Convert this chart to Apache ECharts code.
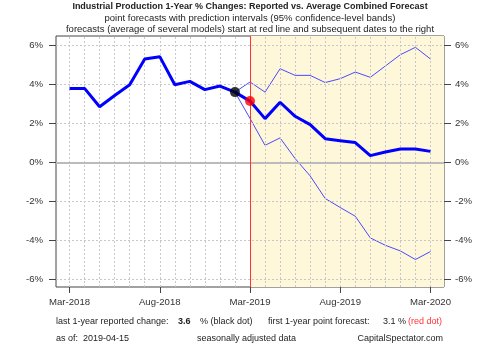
<!DOCTYPE html>
<html><head><meta charset="utf-8">
<script src="https://cdn.jsdelivr.net/npm/echarts@6/dist/echarts.min.js"></script>
<style>html,body{margin:0;padding:0;background:#fff}#c{width:500px;height:346px}</style>
</head><body><div id="c"></div>
<script>
// ---- data ----
var tickIndex = [0, 6, 12, 18, 24];
var tickLabels = ['Mar-2018', 'Aug-2018', 'Mar-2019', 'Aug-2019', 'Mar-2020'];
var yTicks = [-6, -4, -2, 0, 2, 4, 6];
var mainValues = [3.79, 3.79, 2.85, 3.43, 3.98, 5.30, 5.42, 3.98, 4.15, 3.73, 3.91, 3.60, 3.14,
                  2.24, 3.08, 2.36, 1.93, 1.21, 1.11, 1.01, 0.34, 0.53, 0.68, 0.68, 0.56];
var bandStart = 11;
var upperValues = [3.60, 4.12, 3.60, 4.80, 4.46, 4.46, 4.09, 4.29, 4.63, 4.36, 4.94, 5.52, 5.90, 5.30];
var lowerValues = [3.60, 2.25, 0.87, 1.25, 0.19, -0.70, -1.86, -2.32, -2.77, -3.88, -4.26, -4.55, -4.99, -4.58];
var lastReportedIdx = 11, lastReported = 3.6;
var firstForecastIdx = 12, firstForecast = 3.1;

// ---- build ----
var FONT = 'Liberation Sans, Arial, sans-serif';
function pts(arr, start) { return arr.map(function (v, i) { return [start + i, v]; }); }
var vGrid = [];
for (var i = 0; i < mainValues.length; i++) if (i !== firstForecastIdx) vGrid.push({ xAxis: i });
var hGrid = yTicks.filter(function (v) { return v !== 0; }).map(function (v) { return { yAxis: v }; });

var chart = echarts.init(document.getElementById('c'), null, { renderer: 'canvas' });
var yAx = function (pos, margin) {
  return {
    type: 'value', position: pos, min: -6.4, max: 6.48,
    axisLine: { show: false, onZero: false },
    axisTick: { show: true, length: 7, customValues: yTicks, lineStyle: { color: '#444' } },
    axisLabel: { customValues: yTicks, margin: margin, color: '#333', fontSize: 9.6, fontFamily: FONT,
      formatter: function (v) { return v + '%'; } },
    splitLine: { show: false }
  };
};
function txt(x, y, s, font, fill, align) {
  return { type: 'text', x: x, y: y, style: { text: s, font: font + ' ' + FONT, fill: fill || '#222', align: align || 'left', verticalAlign: 'middle' } };
}
chart.setOption({
  animation: false,
  grid: { left: 56, right: 56, top: 36, bottom: 59, show: true, borderColor: '#444', borderWidth: 1, backgroundColor: 'transparent' },
  xAxis: {
    type: 'value', min: -0.9, max: 24.9,
    axisLine: { show: false, onZero: false },
    axisTick: { show: true, length: 6, customValues: tickIndex, lineStyle: { color: '#444' } },
    axisLabel: { customValues: tickIndex, margin: 10, color: '#333', fontSize: 9.6, fontFamily: FONT,
      formatter: function (v) { var k = tickIndex.indexOf(Math.round(v)); return k >= 0 ? tickLabels[k] : ''; } },
    splitLine: { show: false }
  },
  yAxis: [yAx('left', 13), yAx('right', 11)],
  series: [
    { type: 'line', data: [], z: 1, silent: true,
      markArea: { silent: true, itemStyle: { color: '#FFF7DA' },
        data: [[{ xAxis: firstForecastIdx }, { xAxis: 24.9 }]] } },
    { type: 'line', data: [], z: 2, silent: true,
      markLine: { silent: true, symbol: 'none', label: { show: false },
        lineStyle: { color: '#c8c8c8', type: [2, 2], width: 1 },
        data: vGrid.concat(hGrid) } },
    { type: 'line', data: [], z: 3, silent: true,
      markLine: { silent: true, symbol: 'none', label: { show: false },
        data: [
          { yAxis: 0, lineStyle: { color: '#bbbbbb', type: 'solid', width: 2 } },
          { xAxis: firstForecastIdx, lineStyle: { color: '#ff3333', type: 'solid', width: 1 } }
        ] } },
    { type: 'line', data: pts(upperValues, bandStart), z: 4, symbol: 'none',
      lineStyle: { color: '#4a4aff', width: 1 } },
    { type: 'line', data: pts(lowerValues, bandStart), z: 4, symbol: 'none',
      lineStyle: { color: '#4a4aff', width: 1 } },
    { type: 'line', data: pts(mainValues, 0), z: 5, symbol: 'none',
      lineStyle: { color: '#0000ff', width: 3 } },
    { type: 'scatter', z: 6, symbolSize: 10,
      data: [
        { value: [lastReportedIdx, mainValues[lastReportedIdx]], itemStyle: { color: '#000' } },
        { value: [firstForecastIdx, mainValues[firstForecastIdx]], itemStyle: { color: '#ff0000' } }
      ] }
  ],
  graphic: [
    txt(250, 7, 'Industrial Production 1-Year % Changes: Reported vs. Average Combined Forecast', 'bold 9px', '#222', 'center'),
    txt(250, 18, 'point forecasts with prediction intervals (95% confidence-level bands)', '9.5px', '#222', 'center'),
    txt(250, 29, 'forecasts (average of several models) start at red line and subsequent dates to the right', '9.5px', '#222', 'center'),
    txt(56, 322, 'last 1-year reported change:', '9px'),
    txt(178, 322, String(lastReported), 'bold 9px'),
    txt(200, 322, '% (black dot)', '9px'),
    txt(268, 322, 'first 1-year point forecast:', '9px'),
    txt(383, 322, firstForecast + ' %', '9px'),
    txt(408, 322, '(red dot)', '9px', '#ff3333'),
    txt(56, 339, 'as of:', '9px'),
    txt(83, 339, '2019-04-15', '9px'),
    txt(197, 339, 'seasonally adjusted data', '9px'),
    txt(443, 339, 'CapitalSpectator.com', '9px', '#222', 'right')
  ]
});
</script></body></html>
